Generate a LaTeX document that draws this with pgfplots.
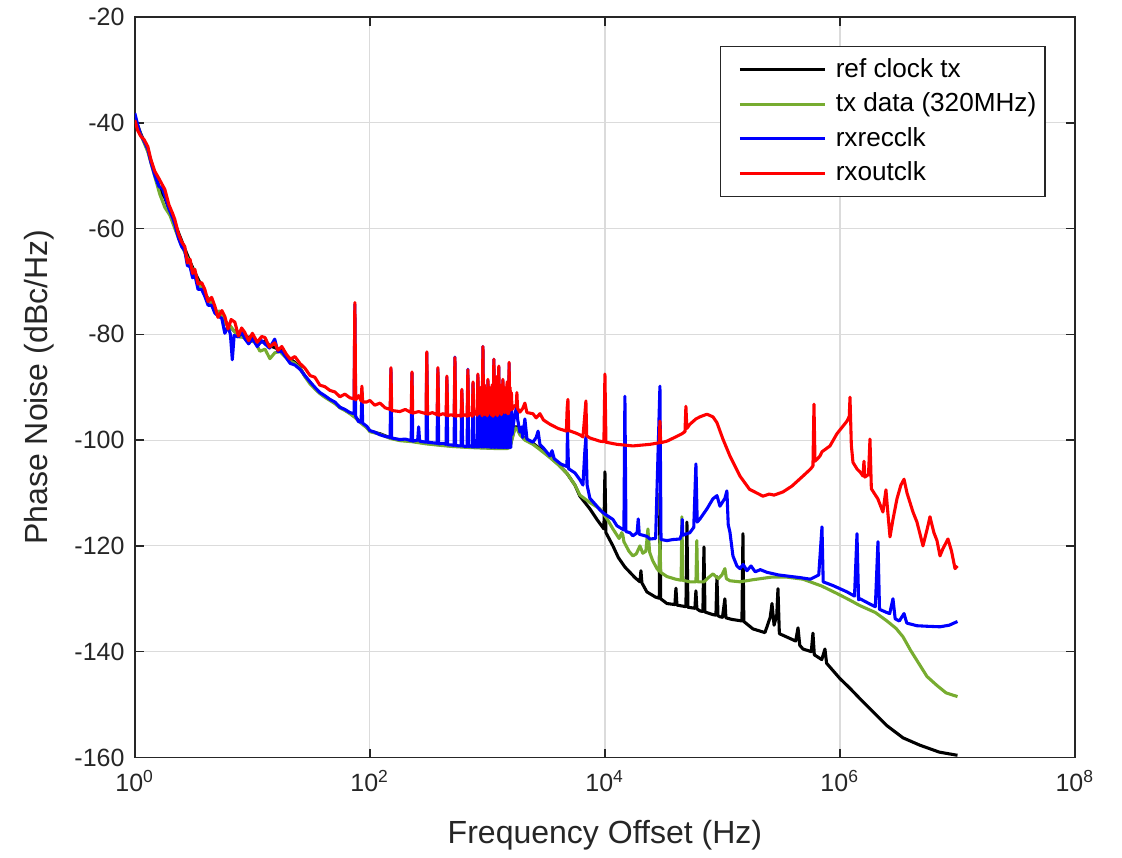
\documentclass[border=0pt]{standalone}
\usepackage{fontspec}
\setmainfont{Liberation Sans}
\usepackage{pgfplots}
\pgfplotsset{compat=1.18}

\definecolor{mlgreen}{RGB}{119,172,48}
\definecolor{axgray}{RGB}{38,38,38}

\begin{document}
\begin{tikzpicture}
\begin{axis}[
    scale only axis,
    width=320pt, height=252pt,
    xmode=log,
    xmin=1, xmax=1e8,
    ymin=-160, ymax=-20,
    xtick={1,100,1e4,1e6,1e8},
    xticklabels={10\textsuperscript{0},10\textsuperscript{2},10\textsuperscript{4},10\textsuperscript{6},10\textsuperscript{8}},
    xminorticks=false,
    ytick={-160,-140,-120,-100,-80,-60,-40,-20},
    yticklabels={-160,-140,-120,-100,-80,-60,-40,-20},
    grid=major,
    major grid style={draw=black!14, line width=0.4pt},
    axis line style={draw=axgray, line width=0.5pt},
    tick style={draw=axgray, line width=0.5pt},
    tick align=inside,
    major tick length=3pt,
    ticklabel style={font=\fontsize{8.5}{10}\selectfont, text=axgray},
    xticklabel style={yshift=-1pt},
    label style={font=\fontsize{10.9}{13}\selectfont, text=axgray},
    xlabel style={yshift=-3pt},
    xlabel={Frequency Offset (Hz)},
    ylabel={Phase Noise (dBc/Hz)},
    legend style={at={(0.969,0.961)}, anchor=north east,
        draw=axgray, line width=0.5pt,
        font=\fontsize{8.9}{10}\selectfont, text=black,
        inner xsep=1.5pt, inner ysep=2pt,
        column sep=1.6pt,
        nodes={inner xsep=1.5pt, inner ysep=1.9pt}},
    legend cell align=left,
    legend image code/.code={\path (-4.6pt,0pt); \draw[#1, line width=1.05pt] (0pt,0pt) -- (29pt,0pt);},
    every axis plot/.append style={line width=1.05pt, line join=round},
]

% ref clock tx
\addplot[black] coordinates {
(1,-39)(1.12,-42)(1.29,-45.2)(1.48,-49.6)(1.63,-52.5)(1.8,-54.2)(1.99,-56.8)(2.19,-59)(2.42,-61.5)(2.66,-63.8)
(2.94,-66.2)(3.24,-68.3)(3.57,-70.2)(3.94,-72.4)(4.35,-73.6)(4.8,-75.4)(5.29,-76)(5.83,-77.5)(6.43,-78.5)(7.1,-79.5)
(7.83,-79.8)(8.63,-80.6)(9.52,-80.5)(10.5,-81)(11.6,-81.5)(12.8,-81.3)(14.1,-82.2)(15.5,-82.5)(17.8,-83.1)(20.8,-84.6)
(23,-85.3)(25.4,-86.3)(28,-87.9)(31,-89.1)(34,-90.2)(37.5,-91.1)(41.4,-91.8)(45.7,-92.4)(50.4,-93)(55.6,-93.8)
(61.3,-94.3)(67.6,-94.9)(74.5,-95.6)(82,-96.5)(94.3,-97.6)(100,-98.3)(122,-98.8)(150,-99.6)(180,-100)(228,-100.2)
(300,-100.6)(400,-100.9)(500,-101.1)(700,-101.3)(900,-101.4)(1200,-101.5)(1466,-101.5)(1553,-101.3)(1648,-99)(1720,-97.5)
(1782,-97.5)(1891,-98.8)(2084,-99.8)(2438,-100.6)(2798,-101.6)(3404,-103.2)(3981,-104.5)(4751,-106.3)(5556,-108.5)(6124,-110.6)
(7450,-113)(8550,-115)(9800,-116.8)(10000,-106)(10200,-117.5)(11700,-120)(13000,-122.2)(14790,-124)(16330,-125)(18000,-126)
(19860,-126.8)(20240,-124.7)(20640,-127)(22750,-128.7)(27000,-129.7)(29000,-129.9)(29380,-110)(29800,-130)(33700,-130.9)(39400,-131.1)
(40200,-128)(41000,-131.2)(43470,-131.3)(48900,-131.5)(49860,-115.5)(50800,-131.6)(58300,-131.8)(59460,-128.5)(60600,-131.9)(64370,-132.3)
(68200,-132.4)(69600,-120.2)(71000,-132.5)(83000,-133)(88000,-133.1)(89800,-125.8)(91600,-133.2)(95200,-133.4)(100000,-133.5)(104900,-130)
(107000,-133.6)(120000,-133.9)(146500,-134.2)(149400,-117.7)(152000,-134.3)(181800,-135.7)(230000,-136.4)(255000,-133.5)(263900,-130.9)(275000,-135)
(290000,-133)(296700,-128.1)(305000,-136.6)(350000,-137.2)(420000,-138)(439500,-135.5)(455000,-138.8)(484300,-139.5)(570000,-140)(589000,-136.5)
(605000,-140.6)(700000,-141.5)(745000,-139.5)(770000,-142.2)(1e6,-145.1)(1.2e6,-146.8)(1.48e6,-148.9)(2e6,-151.8)(2.51e6,-154)(3.44e6,-156.3)
(4.8e6,-157.7)(7e6,-159)(1e7,-159.6)
};
\addlegendentry{ref clock tx}

% tx data (320MHz)
\addplot[mlgreen] coordinates {
(1,-39.3)(1.12,-42.2)(1.29,-45.5)(1.48,-50.2)(1.63,-53.5)(1.8,-56)(1.99,-57.5)(2.19,-60)(2.42,-62.5)(2.66,-64.5)
(2.94,-66.5)(3.24,-68.8)(3.57,-70.8)(3.94,-72.5)(4.35,-73.5)(4.8,-75.8)(5.29,-75.6)(5.83,-78)(6.43,-78.3)(7.1,-79.6)
(7.83,-80.5)(8.63,-80.6)(9.52,-81.3)(10.5,-81.4)(11.6,-83.2)(12.8,-82.8)(14.1,-84.6)(15.5,-83.5)(17.1,-83.2)(18.9,-84.2)
(20.8,-85)(23,-85.5)(25.4,-86.4)(28,-88)(31,-89.4)(34,-90.3)(37.5,-91.2)(41.4,-91.9)(45.7,-92.5)(50.4,-93.1)
(55.6,-93.9)(61.3,-94.4)(67.6,-95)(74.5,-95.7)(82,-96.6)(94.3,-97.7)(100,-98.4)(122,-98.9)(150,-99.7)(180,-100.1)
(228,-100.3)(300,-100.7)(400,-101)(500,-101.2)(700,-101.4)(900,-101.5)(1200,-101.6)(1466,-101.6)(1553,-101.4)(1648,-99.2)
(1720,-97.7)(1782,-97.8)(1891,-99)(2084,-100)(2438,-100.8)(2798,-101.8)(3404,-103.3)(3981,-104.6)(4751,-106.3)(5556,-108.5)
(6124,-110.4)(7450,-111.8)(9060,-113)(10500,-115)(11700,-116.8)(13200,-118.6)(13900,-117.5)(14220,-118)(14500,-119.2)(16000,-121)
(17300,-121.9)(18500,-121.5)(19860,-120)(21000,-121.4)(22300,-121)(23220,-116.8)(24000,-121.2)(25500,-122.8)(27720,-124.3)(29000,-124.8)
(29380,-118.1)(29800,-125)(33700,-125.8)(40000,-126.3)(44500,-126.5)(45200,-114.5)(45900,-126.5)(52840,-126.8)(59500,-126.8)(60500,-119)
(61500,-126.8)(69600,-126.8)(76000,-126)(83000,-125.3)(92000,-126.2)(99000,-125.5)(104900,-124.3)(108000,-126.2)(116000,-126.6)(140900,-126.8)
(181800,-126.4)(263900,-125.9)(350000,-125.9)(484300,-126.3)(700000,-127.6)(942000,-129)(1.2e6,-130.2)(1.48e6,-131.3)(2e6,-132.6)(2.51e6,-134.2)
(3e6,-135.6)(3.44e6,-137.2)(4e6,-139.8)(4.8e6,-142.6)(5.5e6,-144.7)(6.69e6,-146.4)(8e6,-147.8)(1e7,-148.5)
};
\addlegendentry{tx data (320MHz)}

% rxrecclk
\addplot[blue] coordinates {
(1,-38.2)(1.06,-40.5)(1.12,-42.3)(1.2,-43.5)(1.29,-45)(1.37,-47.5)(1.48,-50)(1.6,-52)(1.72,-52.5)(1.8,-53.8)
(1.95,-56.3)(2.1,-58)(2.19,-59.2)(2.35,-61.8)(2.5,-63.4)(2.66,-64.2)(2.8,-67)(2.95,-67.2)(3.1,-69.3)(3.24,-68.8)
(3.45,-71.5)(3.7,-71.5)(3.94,-72.8)(4.2,-74.5)(4.5,-74.5)(4.8,-76)(5.1,-76.5)(5.5,-77)(5.83,-79.8)(6.2,-78.5)
(6.5,-80)(6.75,-84.8)(7.0,-80.2)(7.6,-80.5)(8.1,-79.5)(8.6,-80.8)(9.3,-81.8)(10,-80.8)(11,-82.3)(12,-81.2)
(12.8,-81.8)(14,-82.6)(15.5,-80.9)(16.5,-83.3)(17.8,-83.2)(19.5,-84.5)(21,-85.5)(23,-85.8)(25.4,-86.6)(28,-87.8)
(31,-89)(34,-90)(37.5,-91)(41.4,-91.6)(45.7,-92.3)(50.4,-92.8)(55.6,-93.8)(61.3,-94.2)(67.6,-94.8)(73.3,-95)
(74.5,-74.3)(75.7,-95.5)(80,-96.5)(84.2,-96.6)(85.5,-90.8)(86.8,-96.8)(94.3,-97.4)(100,-98.2)(110,-98.5)(122,-99)
(135,-99.3)(148.7,-99.5)(151,-86.5)(153.3,-99.6)(180,-99.9)(200,-99.8)(224.6,-100.1)(228,-87.3)(231.4,-100.2)(255,-100)
(260,-97.5)(265,-100.2)(300.4,-100.4)(305,-83.5)(309.6,-100.4)(340,-100.5)(373.3,-100.6)(379,-86.5)(384.7,-100.7)(420,-100.6)
(445,-100.8)(452,-88.1)(459,-100.9)(490,-100.9)(521,-101)(529,-84.3)(537,-101)(570,-101.1)(597,-101.1)(606,-90.6)
(615,-101.1)(650,-101.2)(672,-101.2)(682,-86.6)(692,-101.2)(720,-101.1)(744,-101.3)(755,-89.2)(766,-101.3)(800,-101.2)
(818,-101.3)(830,-87.7)(842,-101.3)(867,-101.2)(880,-90.2)(893,-101.3)(902,-101.3)(916,-82.3)(928,-101.3)(940,-95)
(952,-101.3)(970,-90.7)(985,-101.3)(992,-96)(998,-101.3)(1010,-88.7)(1025,-101.3)(1040,-95.5)(1055,-101.4)(1070,-91.2)
(1085,-101.4)(1100,-94)(1118,-101.4)(1135,-84.7)(1152,-101.4)(1165,-95)(1180,-101.4)(1200,-88.2)(1215,-101.4)(1225,-94.5)
(1238,-101.4)(1250,-86.2)(1265,-101.4)(1275,-95)(1288,-101.4)(1300,-90.2)(1315,-101.4)(1330,-94)(1342,-101.4)(1355,-88.7)
(1370,-101.4)(1385,-94.5)(1400,-101.4)(1420,-95)(1430,-101.4)(1440,-90.2)(1455,-101.4)(1470,-94)(1485,-101.4)(1500,-95)
(1515,-101.4)(1530,-85.5)(1545,-101.4)(1560,-94)(1580,-101.4)
(1600,-93)(1620,-99)(1700,-95.5)(1760,-94)(1782,-93.6)(1805,-96)(1891,-98.5)(1960,-97.5)(2000,-99.5)(2084,-96)
(2170,-99.8)(2438,-100.4)(2600,-99.5)(2700,-98.3)(2798,-100.8)(3000,-101.5)(3404,-103)(3550,-102)(3700,-103.5)(4200,-104.5)
(4751,-105)(4800,-98.3)(4900,-105.4)(5556,-106.2)(6124,-107.5)(6500,-108.5)(6750,-102)(6890,-99.4)(7050,-108.5)(7450,-111)
(8550,-112.5)(9060,-113.2)(10000,-114)(11700,-115)(12650,-116.2)(14500,-117)(14790,-91.7)(15100,-117.3)(16330,-117.5)(17300,-118.1)
(18800,-117.5)(19200,-114.9)(19600,-117.8)(22750,-118.2)(24150,-118.7)(27000,-118.6)(29380,-89.8)(30000,-118.8)(33700,-119)(38000,-118.8)
(43470,-118.7)(45000,-117.8)(45500,-115)(46000,-118)(52840,-117.5)(57000,-116.5)(59460,-104.5)(61000,-115.5)(64370,-114.9)(73820,-113)
(83000,-111.1)(89800,-110.5)(95200,-112.5)(105000,-111)(109100,-109.6)(112000,-116)(115800,-117.4)(122800,-121.9)(132800,-123.8)(140900,-124.3)
(150000,-123.5)(161600,-124.7)(175000,-123.8)(190000,-124.9)(210000,-124.5)(239300,-125)(300000,-125.5)(457100,-126)(560000,-126.3)(660000,-125.5)
(703000,-116.4)(720000,-126.8)(871000,-127.5)(1.148e6,-128.7)(1.33e6,-129.5)(1.396e6,-117.7)(1.44e6,-130.2)(1.48e6,-130)(1.8e6,-131)(2.0e6,-131.5)
(2.105e6,-119.2)(2.17e6,-132)(2.5e6,-132.6)(2.65e6,-132.8)(2.825e6,-130)(2.95e6,-133.8)(3.2e6,-134.2)(3.508e6,-132.8)(3.7e6,-134.6)(4.52e6,-135.1)
(5.5e6,-135.2)(7.1e6,-135.3)(8.5e6,-135)(1e7,-134.3)
};
\addlegendentry{rxrecclk}

% rxoutclk
\addplot[red] coordinates {
(1,-39.5)(1.06,-41.5)(1.12,-42.5)(1.2,-43.2)(1.29,-44.5)(1.37,-47)(1.48,-49.2)(1.6,-50.5)(1.72,-51.8)(1.8,-52.6)
(1.95,-55.5)(2.1,-57.2)(2.19,-58.3)(2.35,-61)(2.5,-62.5)(2.66,-63.4)(2.8,-66.5)(2.95,-65.8)(3.1,-68.5)(3.24,-67.7)
(3.45,-70.5)(3.7,-70.2)(3.94,-71.5)(4.2,-73.8)(4.5,-73)(4.8,-74.7)(5.1,-76.8)(5.5,-75.5)(5.83,-76.6)(6.2,-79)
(6.6,-77.2)(7.1,-77.7)(7.6,-80.3)(8.1,-78.8)(8.6,-79.6)(9.3,-81.2)(10,-79.8)(11,-81.5)(12,-80.4)(12.8,-80.6)
(14,-82.4)(15.5,-81.6)(16.5,-83)(17.8,-82.3)(19.5,-83.8)(21,-84.7)(23,-84.2)(25.4,-85.5)(28,-86.4)(31,-87.8)
(34,-88.1)(37.5,-89.6)(41.4,-89.9)(45.7,-90.6)(50.4,-90.9)(55.6,-91.8)(61.3,-91.3)(67.6,-92)(73.3,-92.2)(74.5,-74)
(75.7,-92.4)(80,-91.6)(84.2,-92.6)(85.5,-89.8)(86.8,-92.8)(94,-92.8)(100,-92.5)(110,-93.4)(122,-93)(135,-93.9)
(148.7,-94.2)(151,-86.3)(153.3,-94.4)(180,-94.6)(200,-94.2)(224.6,-94.8)(228,-87.1)(231.4,-94.9)(260,-94.6)(300.4,-95)
(305,-83.3)(309.6,-95.1)(340,-94.8)(373.3,-95.2)(379,-86.3)(384.7,-95.3)(420,-95)(445,-95.3)(452,-87.9)(459,-95.4)
(490,-95.2)(521,-95.4)(529,-84.4)(537,-95.5)(570,-95.3)(597,-95.5)(606,-90.4)(615,-95.4)(650,-95.2)(672,-95.5)
(682,-86.7)(692,-95.4)(720,-95)(744,-95.5)(755,-89)(766,-95.2)(800,-94.5)(818,-95.3)(830,-87.5)(842,-95)
(867,-94.6)(880,-90)(893,-94.8)(902,-95.4)(916,-82.3)(928,-95)(940,-89.5)(952,-95.2)(970,-90.5)(985,-95.2)
(992,-91)(998,-95.4)(1010,-88.5)(1025,-95)(1040,-90)(1055,-94.5)(1070,-91)(1085,-95.3)(1100,-89.5)(1118,-95.5)
(1135,-84.7)(1152,-95.2)(1165,-90)(1180,-94.6)(1200,-88)(1215,-95.4)(1225,-89.5)(1238,-95)(1250,-86)(1265,-94.2)
(1275,-90.5)(1288,-95)(1300,-90)(1315,-95.2)(1330,-89.5)(1342,-94.8)(1355,-88.5)(1370,-94.6)(1385,-90)(1400,-94.8)
(1420,-90.5)(1430,-94.2)(1440,-90)(1455,-94.8)(1470,-89)(1485,-95)(1500,-90.5)(1515,-95)(1530,-85.3)(1545,-94.5)
(1560,-90)(1580,-93.8)(1600,-91)(1620,-94.2)(1700,-93.5)
(1760,-93.5)(1782,-91)(1805,-94)(1891,-94.7)(2000,-94)(2084,-93)(2170,-94.8)(2438,-95)(2600,-95.8)(2798,-95)
(3000,-96.2)(3404,-97)(4000,-97.8)(4700,-98.3)(4770,-94)(4843,-92.3)(4920,-98.2)(5556,-98.6)(6124,-99)(6500,-99.4)
(6700,-96)(6890,-92.6)(7000,-99.2)(7450,-99.6)(9060,-100.2)(9800,-100.3)(10000,-87.5)(10200,-100.4)(12650,-100.8)(17300,-101.1)
(24150,-100.8)(29000,-100.5)(29380,-96.4)(29800,-100.5)(33700,-100.2)(40000,-99.4)(45200,-98.8)(48000,-98.4)(48870,-93.6)(49800,-97.8)
(52840,-97)(59460,-96)(64370,-95.6)(73820,-95.1)(83000,-95.6)(89800,-96.7)(100900,-99.8)(115800,-103)(140900,-106.8)(170000,-109.3)
(221100,-110.6)(250000,-110.2)(275000,-110.4)(327300,-109.8)(390000,-108.7)(484300,-106.8)(560000,-105.5)(589000,-104.9)(601000,-93.2)(613000,-104)
(640000,-103.6)(676000,-103)(703000,-102.2)(745000,-101.8)(822000,-101.1)(942000,-98.8)(1.148e6,-96.4)(1.20e6,-95.5)(1.217e6,-91.9)(1.25e6,-101)
(1.29e6,-104.2)(1.40e6,-105.5)(1.48e6,-106)(1.57e6,-106.8)(1.6e6,-104)(1.63e6,-107)(1.75e6,-106.5)(1.8e6,-99.8)(1.85e6,-109.2)(1.95e6,-110)
(2.1e6,-111.1)(2.32e6,-113.6)(2.462e6,-109.4)(2.55e6,-113.5)(2.665e6,-118.3)(2.825e6,-115)(3.055e6,-111.1)(3.3e6,-108.5)(3.508e6,-107.4)(3.719e6,-110)
(4.181e6,-113.6)(4.521e6,-115.5)(5.084e6,-120)(5.498e6,-117)(5.834e6,-114.5)(6.3e6,-117.5)(6.693e6,-119)(7.098e6,-121.9)(7.53e6,-120.5)(8.299e6,-118.7)
(8.9e6,-121)(9.528e6,-124.3)(1e7,-123.8)
};
\addlegendentry{rxoutclk}

\end{axis}
\pgfresetboundingbox
\path[use as bounding box] ([xshift=-45.9pt,yshift=-34pt]current axis.south west) rectangle ([xshift=16pt,yshift=5.8pt]current axis.north east);
\end{tikzpicture}
\end{document}
